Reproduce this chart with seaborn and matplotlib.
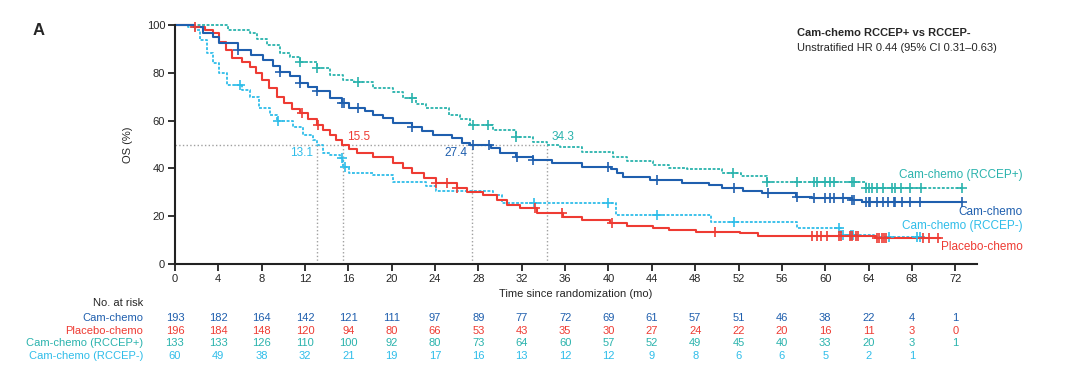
import numpy as np
import pandas as pd
import matplotlib
matplotlib.use("Agg")
import matplotlib.pyplot as plt
import matplotlib.transforms as mtransforms
import seaborn as sns

# ---- data ----
cam_t = [0, 1.8, 2.6, 3.5, 4.1, 5.8, 7.0, 8.1, 9.0, 9.7, 10.6, 11.5, 12.3, 13.1, 14.3,
         15.4, 16.1, 17.5, 18.3, 19.2, 20.1, 21.9, 22.8, 23.8, 25.6, 26.5, 27.2, 29.2,
         30.0, 31.5, 33.0, 34.8, 37.6, 40.2, 40.8, 41.3, 43.8, 46.8, 49.3, 50.5, 52.4,
         54.2, 57.3, 58.8, 62.5, 63.4, 72.6]
cam_s = [100, 99, 96.5, 95, 92.3, 89.5, 87.5, 85.4, 83, 80.5, 78.5, 75.9, 74, 72.2, 69.5,
         67.3, 65.3, 64, 62.3, 61, 58.9, 57.4, 55.5, 54, 52.6, 50.5, 49.8, 48.4,
         46.6, 44.9, 43.5, 42.1, 40.7, 39.6, 38, 36.5, 35.1, 34, 33, 31.7, 30.7,
         29.6, 28.2, 27.5, 26.8, 26.1, 26.1]
cam_cens = [5.8, 9.7, 11.5, 13.1, 15.4, 15.6, 16.9, 21.9, 27.5, 29.0, 31.6, 33.0, 40.0,
            44.5, 51.6, 54.7, 57.4, 59.0, 60.0, 60.4, 60.8, 61.6, 62.5, 62.7, 63.8, 64.0,
            64.1, 64.8, 65.3, 65.8, 66.3, 66.4, 67.1, 67.8, 68.7, 72.6]

pbo_t = [0, 1.8, 2.8, 3.5, 4.1, 4.7, 5.3, 6.2, 6.9, 7.5, 8.0, 8.7, 9.4, 10.1, 10.8, 11.5,
         12.3, 13.1, 13.7, 14.3, 14.9, 15.4, 16.1, 16.8, 18.3, 20.1, 21.0, 21.9, 23.0,
         24.1, 26.0, 26.9, 28.4, 29.7, 30.6, 31.8, 33.4, 35.8, 37.6, 40.1, 41.7, 44.1,
         45.6, 48.1, 52.1, 53.8, 64.7, 70.6]
pbo_s = [100, 99.2, 98, 96.5, 93, 89.5, 86, 84.5, 82.6, 80, 77, 73.5, 70, 67.2, 65, 63,
         60.5, 58.2, 56, 54, 52, 49.8, 48, 46.3, 44.9, 42.1, 40, 37.9, 36,
         33.8, 31.7, 30.3, 28.9, 26.8, 24.7, 23.3, 21.5, 19.8, 18.4, 17, 15.9, 14.9,
         14.2, 13.5, 12.8, 11.8, 11, 11]
pbo_cens = [1.85, 11.7, 13.2, 24.1, 25.1, 26.0, 33.2, 35.7, 40.3, 49.8, 58.8, 59.2, 59.6,
            60.2, 61.3, 61.5, 62.3, 62.5, 62.8, 63.0, 64.8, 65.0, 65.2, 65.4, 65.6,
            69.0, 69.6, 70.4]

pos_t = [0, 4.9, 6.9, 7.6, 8.5, 9.7, 10.6, 11.5, 13.1, 14.3, 15.5, 16.5, 18.3, 20.1, 21.0,
         22.2, 23.2, 25.3, 26.3, 27.2, 29.3, 31.5, 33.0, 34.3, 35.5, 37.6, 40.4, 41.7,
         44.1, 45.6, 47.2, 50.5, 52.2, 54.6, 63.8, 72.6]
pos_s = [100, 97.9, 96.5, 94, 91.6, 88.2, 86.5, 84.6, 81.9, 79, 77, 76.3, 73.5, 72.1, 69.3,
         67, 65.1, 62.3, 60.5, 58.2, 56, 53.3, 51.2, 49.8, 49.1, 47, 44.9, 43.1,
         41.4, 40.3, 39.7, 38.0, 37.0, 34.4, 31.7, 31.7]
pos_cens = [11.5, 13.1, 16.9, 21.9, 27.5, 28.9, 31.5, 51.5, 54.6, 57.4, 59.0, 59.2, 60.0,
            60.4, 60.8, 62.5, 62.7, 63.8, 64.0, 64.3, 64.8, 65.3, 66.2, 66.4, 67.0,
            67.8, 68.8, 72.6]

neg_t = [0, 1.2, 1.85, 2.3, 3.0, 3.5, 4.1, 4.8, 6.2, 6.9, 7.8, 8.8, 9.4, 10.9, 11.8, 12.7,
         13.1, 13.7, 14.3, 15.2, 15.5, 16.1, 18.3, 20.1, 23.2, 24.1, 29.3, 30.2, 40.7,
         49.5, 57.4, 61.5, 64.5, 68.8]
neg_s = [100, 99.3, 98, 93.7, 88.2, 84, 79.8, 74.9, 72.8, 70, 65.1, 62.3, 60, 57.4, 54, 51.9,
         49.8, 46.3, 45.6, 44.2, 40.7, 38.2, 37.2, 34.4, 32.8, 30.7, 28.9, 25.4, 20.5,
         17.7, 14.9, 12.1, 11.2, 11.2]
neg_cens = [6.0, 9.5, 15.4, 15.7, 33.1, 40.0, 44.5, 51.6, 61.3, 61.6, 62.4, 62.6, 65.9,
            68.5, 68.7]

medians = [13.1, 15.5, 27.4, 34.3]

risk_times = list(range(0, 73, 4))
risk_cam = [193, 182, 164, 142, 121, 111, 97, 89, 77, 72, 69, 61, 57, 51, 46, 38, 22, 4, 1]
risk_pbo = [196, 184, 148, 120, 94, 80, 66, 53, 43, 35, 30, 27, 24, 22, 20, 16, 11, 3, 0]
risk_pos = [133, 133, 126, 110, 100, 92, 80, 73, 64, 60, 57, 52, 49, 45, 40, 33, 20, 3, 1]
risk_neg = [60, 49, 38, 32, 21, 19, 17, 16, 13, 12, 12, 9, 8, 6, 6, 5, 2, 1]

# ---- style ----
c_cam = "#1f5fae"
c_pbo = "#ee3b33"
c_pos = "#2ab3ad"
c_neg = "#2fbde9"
dash = (0, (1.6, 0.9))

sns.set_style("ticks")
plt.rcParams["font.family"] = ["Liberation Sans", "DejaVu Sans"]

fig = plt.figure(figsize=(10.8, 3.77), dpi=100)
ax = fig.add_axes([0.162, 0.2997, 0.7426, 0.634])

series = [
    ("Cam-chemo (RCCEP+)", pos_t, pos_s, pos_cens, c_pos, dash),
    ("Cam-chemo (RCCEP-)", neg_t, neg_s, neg_cens, c_neg, dash),
    ("Placebo-chemo", pbo_t, pbo_s, pbo_cens, c_pbo, "-"),
    ("Cam-chemo", cam_t, cam_s, cam_cens, c_cam, "-"),
]

for name, t, s, cens, col, ls in series:
    df = pd.DataFrame({"time": t, "surv": s})
    lw = 1.3 if ls == dash else 1.5
    sns.lineplot(data=df, x="time", y="surv", ax=ax, color=col, linestyle=ls,
                 linewidth=lw, drawstyle="steps-post", estimator=None, sort=False,
                 clip_on=False)
    tt = np.array(t)
    ss = np.array(s)
    idx = np.searchsorted(tt, np.array(cens), side="right") - 1
    cdf = pd.DataFrame({"time": cens, "surv": ss[idx]})
    sns.scatterplot(data=cdf, x="time", y="surv", ax=ax, color=col, marker="+",
                    s=50, linewidth=1.2, clip_on=False, zorder=3)

# median guide lines
gray = "#a0a0a0"
ax.plot([0, max(medians)], [50, 50], color=gray, linestyle=":", linewidth=1.0, zorder=0)
for m in medians:
    ax.plot([m, m], [0, 50], color=gray, linestyle=":", linewidth=1.0, zorder=0)

ax.text(12.7, 46.5, "13.1", color=c_neg, fontsize=8.5, ha="right", va="center")
ax.text(15.9, 53.0, "15.5", color=c_pbo, fontsize=8.5, ha="left", va="center")
ax.text(27.0, 46.5, "27.4", color=c_cam, fontsize=8.5, ha="right", va="center")
ax.text(34.7, 53.0, "34.3", color=c_pos, fontsize=8.5, ha="left", va="center")

# curve labels on the right
lab_x = 78.2
ax.text(lab_x, 37.2, "Cam-chemo (RCCEP+)", color=c_pos, fontsize=8.5, ha="right", va="center", clip_on=False)
ax.text(lab_x, 21.8, "Cam-chemo", color=c_cam, fontsize=8.5, ha="right", va="center", clip_on=False)
ax.text(lab_x, 15.9, "Cam-chemo (RCCEP-)", color=c_neg, fontsize=8.5, ha="right", va="center", clip_on=False)
ax.text(lab_x, 7.1, "Placebo-chemo", color=c_pbo, fontsize=8.5, ha="right", va="center", clip_on=False)

# HR text
fig.text(0.738, 0.912, "Cam-chemo RCCEP+ vs RCCEP-", fontsize=8, fontweight="bold", ha="left", va="center")
fig.text(0.738, 0.872, "Unstratified HR 0.44 (95% CI 0.31\u20130.63)", fontsize=8, ha="left", va="center")
fig.text(0.030, 0.918, "A", fontsize=12, fontweight="bold", ha="left", va="center")

# axes
ax.set_xlim(0, 74)
ax.set_ylim(0, 100)
ax.set_xticks(risk_times)
ax.set_yticks([0, 20, 40, 60, 80, 100])
ax.tick_params(labelsize=8, length=5, width=1.3, color="#222222", pad=2)
for sp in ["left", "bottom"]:
    ax.spines[sp].set_linewidth(1.5)
    ax.spines[sp].set_color("#222222")
sns.despine(ax=ax)
ax.set_xlabel("Time since randomization (mo)", fontsize=8, labelpad=4)
ax.set_ylabel("OS (%)", fontsize=8, labelpad=10)

# number at risk table
tr = mtransforms.blended_transform_factory(ax.transData, fig.transFigure)
tr_lab = fig.transFigure
ax.text(143 / 1080, 1 - 303 / 377, "No. at risk", transform=tr_lab, fontsize=8,
        ha="right", va="center")
rows = [("Cam-chemo", risk_cam, c_cam, 318),
        ("Placebo-chemo", risk_pbo, c_pbo, 331),
        ("Cam-chemo (RCCEP+)", risk_pos, c_pos, 343),
        ("Cam-chemo (RCCEP-)", risk_neg, c_neg, 356)]
for name, vals, col, ypx in rows:
    yf = 1 - ypx / 377
    ax.text(143 / 1080, yf, name, transform=tr_lab, color=col, fontsize=8,
            ha="right", va="center")
    for tx, v in zip(risk_times, vals):
        ax.text(tx, yf, str(v), transform=tr, color=col, fontsize=8,
                ha="center", va="center", clip_on=False)

fig.savefig("out.png", dpi=100)
